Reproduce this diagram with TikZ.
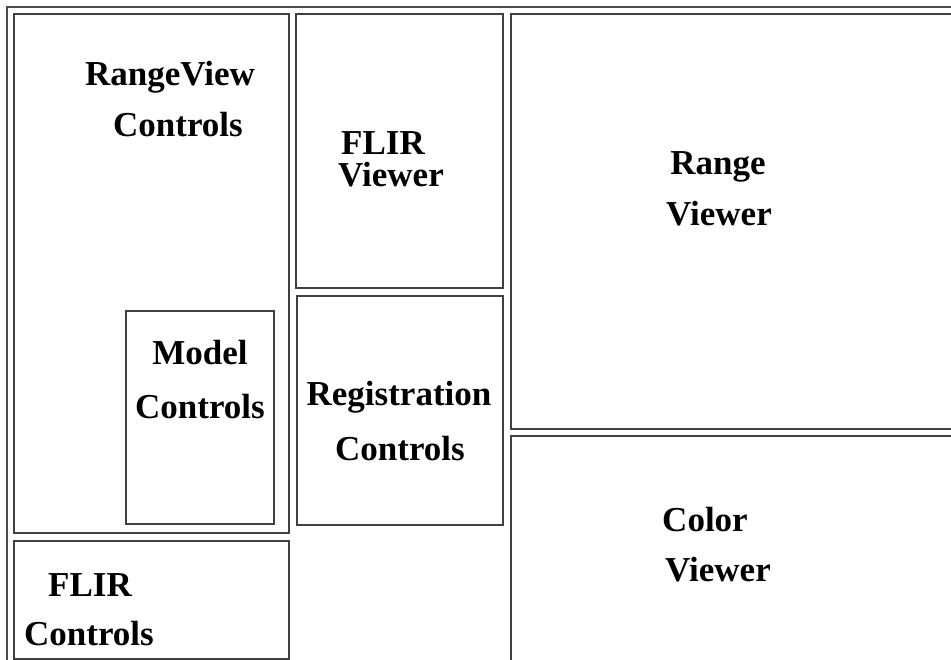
\documentclass[tikz,border=0pt]{standalone}
\usepackage{fontspec}
\setmainfont{Liberation Serif}
\begin{document}
\begin{tikzpicture}[x=1pt,y=-1pt,
  frame/.style={draw=black!70, line width=1.4pt},
  cell/.style={draw=black!75, line width=1.4pt},
  lbl/.style={font=\fontsize{35}{42}\selectfont\bfseries, anchor=base, inner sep=0pt}]
\useasboundingbox (0,0) rectangle (951,660);
% outer table frame (runs off the right and bottom edges)
\draw[frame] (7,661) -- (7,7) -- (952,7);
% left column
\draw[cell] (14,14) rectangle (289,533);
\draw[cell] (126,311) rectangle (274,524);
\draw[cell] (14,541) rectangle (289,659);
% middle column
\draw[cell] (296,14) rectangle (503,288);
\draw[cell] (297,296) rectangle (503,525);
% right column
\draw[cell] (511,14) rectangle (953,429);
\draw[cell] (511,436) rectangle (953,662);
% labels
\node[lbl] (rvc1) at (170,86) {RangeView};
\node[lbl] (rvc2) at (178,137) {Controls};
\node[lbl] (mc1) at (200,365) {Model};
\node[lbl] (mc2) at (200,418) {Controls};
\node[lbl] (fc1) at (90,596) {FLIR};
\node[lbl] (fc2) at (89,645) {Controls};
\node[lbl] (fv1) at (383,155) {FLIR};
\node[lbl] (fv2) at (391,187) {Viewer};
\node[lbl] (rc1) at (399,406) {Registration};
\node[lbl] (rc2) at (400,460) {Controls};
\node[lbl] (rv1) at (718,175) {Range};
\node[lbl] (rv2) at (719,226) {Viewer};
\node[lbl] (cv1) at (705,531) {Color};
\node[lbl] (cv2) at (718,581) {Viewer};
\end{tikzpicture}
\end{document}
